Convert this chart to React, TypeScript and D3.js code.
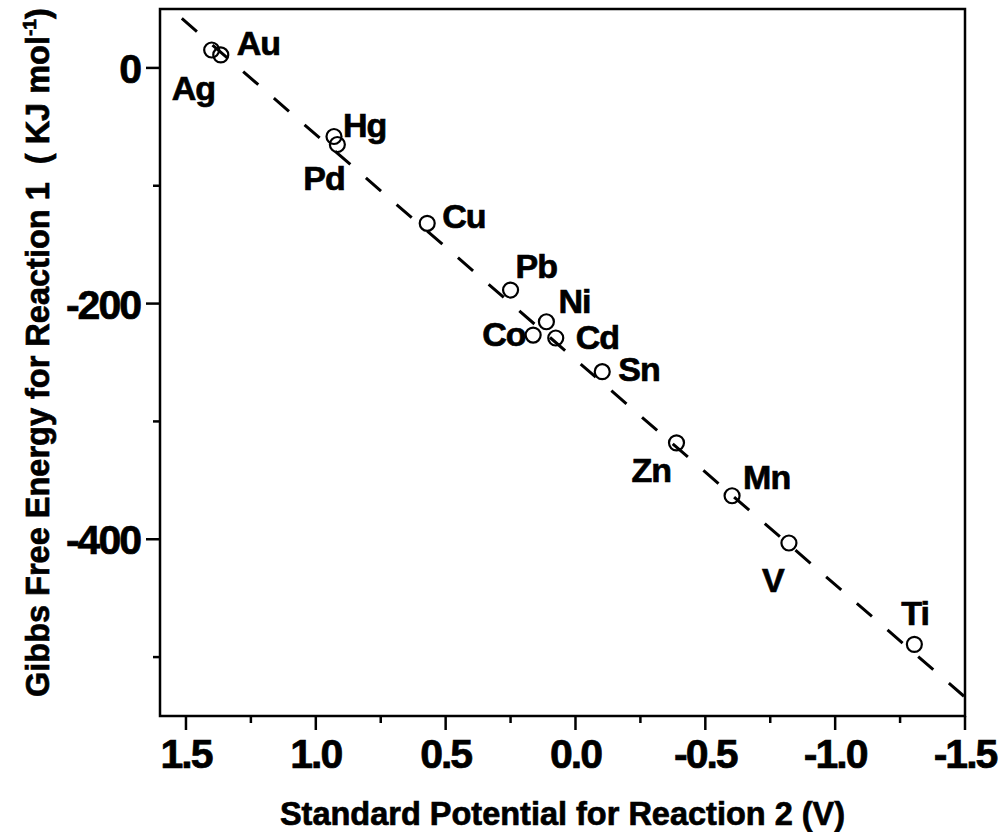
import React, { useEffect, useRef } from 'react';
import * as d3 from 'd3';

// metals
const METALS = ['Ag', 'Au', 'Hg', 'Pd', 'Cu', 'Pb', 'Co', 'Ni', 'Cd', 'Sn', 'Zn', 'Mn', 'V', 'Ti'];
const POTENTIAL = [1.401, 1.366, 0.93, 0.917, 0.571, 0.25, 0.163, 0.112, 0.076, -0.103, -0.389, -0.603, -0.822, -1.305];
const GIBBS = [15.2, 11, -58.2, -65, -131.9, -188.5, -226.7, -215.4, -229.2, -257.8, -318.2, -363.1, -403.2, -489.2];

// dashed fit line end points
const FIT_X = [1.516, -1.5];
const FIT_Y = [42, -534];

const X_TICKS = [1.5, 1.0, 0.5, 0.0, -0.5, -1.0, -1.5];
const X_TICK_LABELS = ['1.5', '1.0', '0.5', '0.0', '-0.5', '-1.0', '-1.5'];
const X_MINOR = [1.25, 0.75, 0.25, -0.25, -0.75, -1.25];
const Y_TICKS = [0, -200, -400];
const Y_TICK_LABELS = ['0', '-200', '-400'];
const Y_MINOR = [-100, -300, -500];

// label placement relative to each point (px)
const LABEL_OFFSET: Record<string, [number, number]> = {
  Ag: [-40, 50],
  Au: [16, 0],
  Hg: [9, 1],
  Pd: [-34, 45],
  Cu: [15, 5],
  Pb: [5, -12],
  Co: [-51, 11],
  Ni: [12, -9],
  Cd: [20, 11],
  Sn: [16, 9],
  Zn: [-45, 39],
  Mn: [11, -7],
  V: [-27, 49],
  Ti: [-13, -19],
};

const FONT = '"Liberation Sans", Arial, sans-serif';

export default function App() {
  const svgRef = useRef<SVGSVGElement>(null);

  useEffect(() => {
    const svgEl = svgRef.current;
    if (!svgEl) return;
    const svg = d3.select(svgEl);
    svg.selectAll('*').remove();

    const left = 160;
    const right = 965;
    const top = 9;
    const bottom = 716;

    const x = d3.scaleLinear().domain([1.6, -1.5]).range([left, right]);
    const y = d3.scaleLinear().domain([50, -550]).range([top, bottom]);

    const g = svg.append('g');

    // bold text with a thin outline, the original glyphs are heavy
    const heavy = (sel: any, size: number, ls = 0) =>
      sel
        .attr('font-family', FONT)
        .attr('font-weight', 'bold')
        .attr('font-size', size)
        .attr('letter-spacing', ls)
        .attr('fill', '#000')
        .attr('stroke', '#000')
        .attr('stroke-width', 0.7);

    // frame
    g.append('rect')
      .attr('x', left)
      .attr('y', top)
      .attr('width', right - left)
      .attr('height', bottom - top)
      .attr('fill', 'none')
      .attr('stroke', '#000')
      .attr('stroke-width', 2.5);

    // x ticks
    g.selectAll('line.xmaj')
      .data(X_TICKS)
      .enter()
      .append('line')
      .attr('x1', d => x(d))
      .attr('x2', d => x(d))
      .attr('y1', bottom)
      .attr('y2', bottom + 14)
      .attr('stroke', '#000')
      .attr('stroke-width', 2.5);
    g.selectAll('line.xmin')
      .data(X_MINOR)
      .enter()
      .append('line')
      .attr('x1', d => x(d))
      .attr('x2', d => x(d))
      .attr('y1', bottom)
      .attr('y2', bottom + 7)
      .attr('stroke', '#000')
      .attr('stroke-width', 2.5);
    heavy(
      g.selectAll('text.xlab')
        .data(X_TICKS)
        .enter()
        .append('text')
        .attr('x', d => x(d))
        .attr('y', 768)
        .attr('text-anchor', 'middle'),
      41,
      -2
    ).text((d, i) => X_TICK_LABELS[i]);

    // y ticks
    g.selectAll('line.ymaj')
      .data(Y_TICKS)
      .enter()
      .append('line')
      .attr('x1', left - 14)
      .attr('x2', left)
      .attr('y1', d => y(d))
      .attr('y2', d => y(d))
      .attr('stroke', '#000')
      .attr('stroke-width', 2.5);
    g.selectAll('line.ymin')
      .data(Y_MINOR)
      .enter()
      .append('line')
      .attr('x1', left - 7)
      .attr('x2', left)
      .attr('y1', d => y(d))
      .attr('y2', d => y(d))
      .attr('stroke', '#000')
      .attr('stroke-width', 2.5);
    heavy(
      g.selectAll('text.ylab')
        .data(Y_TICKS)
        .enter()
        .append('text')
        .attr('x', 140)
        .attr('y', d => y(d) + 15)
        .attr('text-anchor', 'end'),
      41,
      -2
    ).text((d, i) => Y_TICK_LABELS[i]);

    // dashed fit line
    const line = d3
      .line<number>()
      .x(d => x(d))
      .y((d, i) => y(FIT_Y[i]));
    g.append('path')
      .attr('d', line(FIT_X))
      .attr('fill', 'none')
      .attr('stroke', '#000')
      .attr('stroke-width', 3)
      .attr('stroke-dasharray', '20 20.6');

    // points
    const pts = METALS.map((name, i) => ({ name, px: POTENTIAL[i], g: GIBBS[i] }));
    g.selectAll('circle.pt')
      .data(pts)
      .enter()
      .append('circle')
      .attr('cx', d => x(d.px))
      .attr('cy', d => y(d.g))
      .attr('r', 7.5)
      .attr('fill', 'none')
      .attr('stroke', '#000')
      .attr('stroke-width', 2.2);

    heavy(
      g.selectAll('text.name')
        .data(pts)
        .enter()
        .append('text')
        .attr('x', d => x(d.px) + LABEL_OFFSET[d.name][0])
        .attr('y', d => y(d.g) + LABEL_OFFSET[d.name][1]),
      34,
      -1
    ).text(d => d.name);

    // axis titles
    heavy(
      g.append('text')
        .attr('x', (left + right) / 2)
        .attr('y', 825)
        .attr('text-anchor', 'middle'),
      32.5
    ).text('Standard Potential for Reaction 2 (V)');

    const yt = heavy(
      g.append('text').attr('transform', 'translate(49,697) rotate(-90)'),
      32.5
    ).style('white-space', 'pre');
    yt.append('tspan').text('Gibbs Free Energy for Reaction 1  ( KJ mol');
    yt.append('tspan').attr('font-size', 19).attr('dy', -13).text('-1');
    yt.append('tspan').attr('dy', 13).text(')');
  }, []);

  return (
    <div style={{ position: 'absolute', left: 0, top: 0 }}>
      <svg ref={svgRef} width={1005} height={832} style={{ display: 'block', background: '#fff' }} />
    </div>
  );
}
